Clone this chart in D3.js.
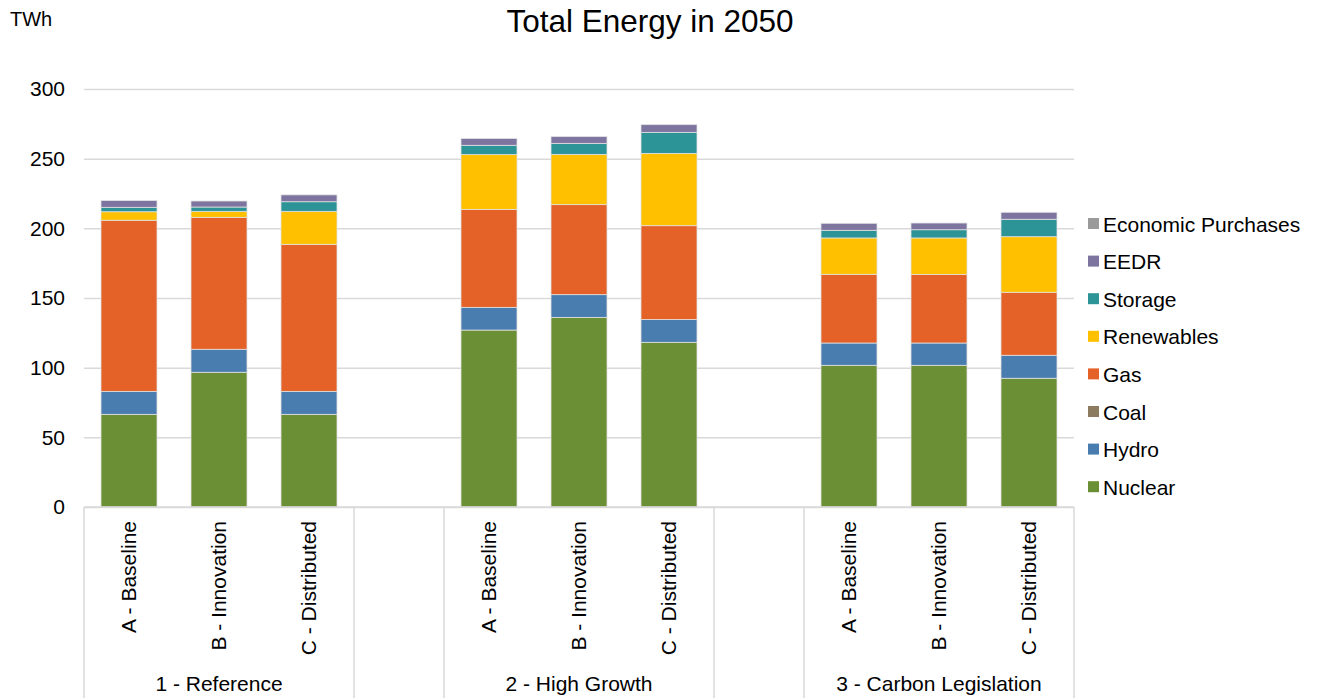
<!DOCTYPE html>
<html>
<head>
<meta charset="utf-8">
<script src="https://cdn.jsdelivr.net/npm/d3@7"></script>
<style>
  body { margin: 0; background: #fff; }
  text { font-family: "Liberation Sans", Arial, sans-serif; fill: #000; }
</style>
</head>
<body>
<div id="chart"></div>
<script>
// Data (TWh)
const groups = ["1 - Reference", "2 - High Growth", "3 - Carbon Legislation"];
const scenarios = ["A - Baseline", "B - Innovation", "C - Distributed"];
const seriesNames = ["Nuclear", "Hydro", "Coal", "Gas", "Renewables", "Storage", "EEDR", "Economic Purchases"];
const seriesColors = ["#6b8f34", "#4a7daf", "#8c7b5e", "#e46128", "#ffc000", "#2c9397", "#7d749f", "#9a9a9a"];

// one value per bar, in order: group 1 A,B,C, group 2 A,B,C, group 3 A,B,C
const nuclear = [66.5, 96.7, 66.5, 127.0, 136.1, 118.2, 101.7, 101.7, 92.4];
const hydro = [16.5, 16.5, 16.5, 16.3, 16.3, 16.3, 16.0, 16.0, 16.5];
const coal = [0, 0, 0, 0, 0, 0, 0, 0, 0];
const gas = [122.8, 94.7, 105.5, 70.3, 64.6, 67.4, 49.3, 49.1, 45.2];
const renewables = [6.1, 4.3, 23.7, 39.3, 36.1, 51.9, 26.1, 26.3, 39.9];
const storage = [3.2, 3.1, 6.9, 6.7, 7.9, 15.1, 5.5, 5.9, 12.5];
const eedr = [4.8, 4.3, 4.9, 4.8, 4.8, 5.5, 5.0, 4.8, 5.0];
const economicPurchases = [0, 0, 0, 0, 0, 0, 0, 0, 0];
const yTicks = [0, 50, 100, 150, 200, 250, 300];

const seriesValues = [nuclear, hydro, coal, gas, renewables, storage, eedr, economicPurchases];

// Build slots: 3 scenarios per group, with an empty slot between groups
const slots = [];
const rows = [];
groups.forEach((g, gi) => {
  scenarios.forEach((s, si) => {
    const key = g + "|" + s;
    slots.push(key);
    const row = { key: key, group: g, scenario: s };
    seriesNames.forEach((n, k) => { row[n] = seriesValues[k][gi * 3 + si]; });
    rows.push(row);
  });
  if (gi < groups.length - 1) slots.push("gap" + gi);
});

const width = 1317, height = 698;
const plotLeft = 84, plotRight = 1074, plotTop = 89, plotBottom = 507;
const fs = "21px";

const svg = d3.select("#chart").append("svg")
  .attr("width", width)
  .attr("height", height);

const pad = 0.378;
const x = d3.scaleBand()
  .domain(slots)
  .range([plotLeft, plotRight])
  .paddingInner(pad)
  .paddingOuter(pad / 2);

const y = d3.scaleLinear()
  .domain([0, 300])
  .range([plotBottom, plotTop]);

// Gridlines
svg.append("g")
  .attr("transform", `translate(${plotLeft},0)`)
  .call(d3.axisLeft(y).tickValues(yTicks).tickSize(-(plotRight - plotLeft)).tickFormat(""))
  .call(g => g.select(".domain").remove())
  .call(g => g.selectAll("line").attr("stroke", "#d9d9d9").attr("stroke-width", 1.5));

// Y axis labels
svg.append("g")
  .attr("transform", `translate(${plotLeft},0)`)
  .call(d3.axisLeft(y).tickValues(yTicks).tickSize(0).tickPadding(19))
  .call(g => g.select(".domain").remove())
  .call(g => g.selectAll("text")
    .style("font-size", fs)
    .attr("fill", "#000")
    .style("font-family", "'Liberation Sans', Arial, sans-serif"));

// Stacked bars
const stack = d3.stack().keys(seriesNames);
const stacked = stack(rows);

svg.selectAll(".series")
  .data(stacked)
  .enter().append("g")
  .attr("class", "series")
  .attr("fill", (d, i) => seriesColors[i])
  .selectAll("rect")
  .data(d => d.filter(p => p[1] - p[0] > 0))
  .enter().append("rect")
  .attr("x", d => x(d.data.key))
  .attr("y", d => y(d[1]))
  .attr("width", x.bandwidth())
  .attr("height", d => y(d[0]) - y(d[1]))
  .attr("stroke", "#e0e0e0")
  .attr("stroke-width", 0.8);

// Category axis line
svg.append("line")
  .attr("x1", plotLeft).attr("x2", plotRight)
  .attr("y1", plotBottom).attr("y2", plotBottom)
  .attr("stroke", "#d9d9d9").attr("stroke-width", 1.5);

// Separators between groups (and around the empty slots)
const halfGap = x.step() * pad / 2;
const sepX = [plotLeft, plotRight];
slots.forEach(k => {
  if (k.startsWith("gap")) {
    sepX.push(x(k) - halfGap, x(k) + x.bandwidth() + halfGap);
  }
});
svg.selectAll(".sep")
  .data(sepX)
  .enter().append("line")
  .attr("class", "sep")
  .attr("x1", d => d).attr("x2", d => d)
  .attr("y1", plotBottom).attr("y2", height)
  .attr("stroke", "#d9d9d9").attr("stroke-width", 1.5);

// Scenario labels (rotated)
svg.selectAll(".scen")
  .data(rows)
  .enter().append("text")
  .attr("class", "scen")
  .attr("transform", d => `translate(${x(d.key) + x.bandwidth() / 2 + 7},521) rotate(-90)`)
  .attr("text-anchor", "end")
  .style("font-size", fs)
  .text(d => d.scenario);

// Group labels
svg.selectAll(".grp")
  .data(groups)
  .enter().append("text")
  .attr("class", "grp")
  .attr("x", g => x(g + "|" + scenarios[1]) + x.bandwidth() / 2)
  .attr("y", 691)
  .attr("text-anchor", "middle")
  .style("font-size", fs)
  .text(g => g);

// Title
svg.append("text")
  .attr("x", 650)
  .attr("y", 32)
  .attr("text-anchor", "middle")
  .style("font-size", "31.5px")
  .text("Total Energy in 2050");

// Unit label
svg.append("text")
  .attr("x", 10)
  .attr("y", 26)
  .style("font-size", "20px")
  .text("TWh");

// Legend (top to bottom in reverse series order)
const legend = svg.append("g").attr("transform", "translate(1088,224)");
const legendItems = seriesNames.map((n, i) => ({ name: n, color: seriesColors[i] })).reverse();
const item = legend.selectAll(".item")
  .data(legendItems)
  .enter().append("g")
  .attr("class", "item")
  .attr("transform", (d, i) => `translate(0,${i * 37.6})`);
item.append("rect")
  .attr("x", 0).attr("y", -6)
  .attr("width", 11).attr("height", 11)
  .attr("fill", d => d.color);
item.append("text")
  .attr("x", 15)
  .attr("y", 7.5)
  .style("font-size", fs)
  .text(d => d.name);
</script>
</body>
</html>
